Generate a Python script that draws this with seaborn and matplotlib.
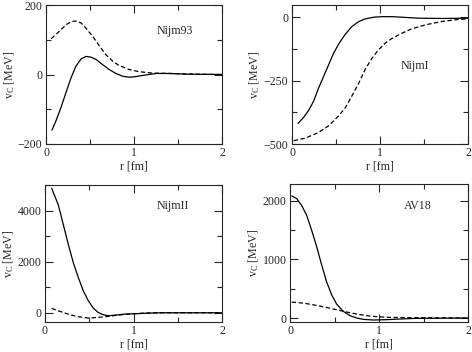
import numpy as np
import pandas as pd
import matplotlib
matplotlib.use("Agg")
import matplotlib.pyplot as plt
import seaborn as sns
from matplotlib.ticker import MultipleLocator

sns.set_style("ticks")
plt.rcParams['font.family'] = ['Liberation Serif', 'DejaVu Serif']
plt.rcParams['mathtext.fontset'] = 'custom'
plt.rcParams['mathtext.rm'] = 'Liberation Serif'
plt.rcParams['mathtext.it'] = 'Liberation Serif'

# Nijm93
n93_r_s = [0.068, 0.114, 0.17, 0.227, 0.284, 0.34, 0.40, 0.455, 0.51, 0.57, 0.64, 0.72,
           0.795, 0.87, 0.95, 1.02, 1.14, 1.25, 1.40, 1.59, 2.0]
n93_v_s = [-160, -133, -95, -52, -10, 24, 45, 52, 50, 43, 29, 14,
           3, -5, -8, -6, -1, 3, 3, 1, 0]
n93_r_d = [0.06, 0.15, 0.227, 0.284, 0.34, 0.40, 0.455, 0.53, 0.61, 0.68, 0.76, 0.83,
           0.95, 1.06, 1.21, 1.40, 1.70, 2.0]
n93_v_d = [103, 124, 143, 152, 154, 148, 133, 110, 81, 57, 38, 26,
           14, 8, 4, 3, 1, 0]

# NijmI
n1_r_s = [0.068, 0.13, 0.19, 0.246, 0.30, 0.36, 0.417, 0.47, 0.53, 0.606, 0.68, 0.76,
          0.83, 0.93, 1.02, 1.14, 1.29, 1.44, 1.70, 2.0]
n1_v_s = [-419, -396, -367, -331, -281, -233, -187, -144, -106, -67, -37, -17,
          -7, 0, 2, 2, -1, -4, -5, -4]
n1_r_d = [0.02, 0.15, 0.30, 0.417, 0.53, 0.606, 0.68, 0.76, 0.83, 0.91, 0.985, 1.06,
          1.14, 1.25, 1.36, 1.52, 1.70, 1.89, 2.0]
n1_v_d = [-487, -477, -455, -428, -389, -357, -311, -259, -207, -161, -128, -102,
          -83, -63, -46, -30, -17, -9, -7]

# NijmII
n2_r_s = [0.075, 0.15, 0.207, 0.264, 0.32, 0.377, 0.433, 0.49, 0.546, 0.60, 0.66, 0.716,
          0.79, 0.90, 1.02, 1.17, 1.32, 2.0]
n2_v_s = [4883, 4234, 3455, 2675, 1961, 1377, 857, 468, 182, 13, -78, -117,
          -91, -52, -39, -13, 0, 0]
n2_r_d = [0.075, 0.15, 0.226, 0.30, 0.377, 0.49, 0.60, 0.716, 0.83, 0.98, 1.13, 1.32, 2.0]
n2_v_d = [169, 78, -13, -91, -156, -208, -182, -143, -91, -39, -13, 0, 0]

# AV18
av_r_s = [0.02, 0.075, 0.13, 0.187, 0.243, 0.30, 0.356, 0.41, 0.468, 0.524, 0.60, 0.674,
          0.75, 0.824, 0.936, 1.086, 1.236, 1.42, 2.0]
av_v_s = [2085, 2040, 1926, 1756, 1501, 1218, 906, 623, 397, 238, 113, 40,
          0, -23, -34, -28, -17, -6, 0]
av_r_d = [0.02, 0.15, 0.30, 0.41, 0.524, 0.637, 0.75, 0.86, 0.974, 1.12, 1.31, 2.0]
av_v_d = [272, 255, 215, 181, 142, 102, 68, 40, 23, 11, 6, 0]

panels = [
    ("Nijm93", n93_r_s, n93_v_s, n93_r_d, n93_v_d, (-200, 200), 200, 100, (0.73, 0.81)),
    ("NijmI", n1_r_s, n1_v_s, n1_r_d, n1_v_d, (-500, 48), 250, 125, (0.70, 0.56)),
    ("NijmII", n2_r_s, n2_v_s, n2_r_d, n2_v_d, (-362, 5010), 2000, 1000, (0.72, 0.85)),
    ("AV18", av_r_s, av_v_s, av_r_d, av_v_d, (-68, 2290), 1000, 500, (0.72, 0.84)),
]

FS = 8.6
fig = plt.figure(figsize=(4.72, 3.52), dpi=100)
boxes = [
    (46, 5, 222, 144),
    (292, 5, 468, 144),
    (45, 185, 222, 322),
    (290, 184, 468, 322),
]
W, H = 472, 352
for (name, rs, vs, rd, vd, ylim, major, minor, lab), (x0, y0, x1, y1) in zip(panels, boxes):
    ax = fig.add_axes([x0 / W, 1 - y1 / H, (x1 - x0) / W, (y1 - y0) / H])
    df = pd.concat([
        pd.DataFrame({"r": rs, "v": vs, "kind": "s"}),
        pd.DataFrame({"r": rd, "v": vd, "kind": "d"}),
    ])
    sns.lineplot(data=df, x="r", y="v", style="kind", style_order=["s", "d"],
                 dashes={"s": "", "d": (3.5, 2)}, color="black", lw=0.9,
                 legend=False, ax=ax, sort=False, estimator=None)
    ax.set_xlim(0, 2)
    ax.set_ylim(*ylim)
    ax.xaxis.set_major_locator(MultipleLocator(1))
    ax.xaxis.set_minor_locator(MultipleLocator(0.5))
    ax.yaxis.set_major_locator(MultipleLocator(major))
    ax.yaxis.set_minor_locator(MultipleLocator(minor))
    ax.tick_params(which="major", direction="in", top=True, right=True,
                   labelsize=FS, length=6, width=0.8, pad=2.5)
    ax.tick_params(which="minor", direction="in", top=True, right=True,
                   length=3.5, width=0.8)
    ax.set_xlabel("r [fm]", fontsize=FS, labelpad=1)
    ax.set_ylabel(r"v$_\mathrm{C}$ [MeV]", fontsize=FS, labelpad=1)
    for s in ax.spines.values():
        s.set_linewidth(0.8)
    ax.text(lab[0], lab[1], name, transform=ax.transAxes, ha="center",
            va="center", fontsize=FS)

fig.savefig("out.png", dpi=100)
